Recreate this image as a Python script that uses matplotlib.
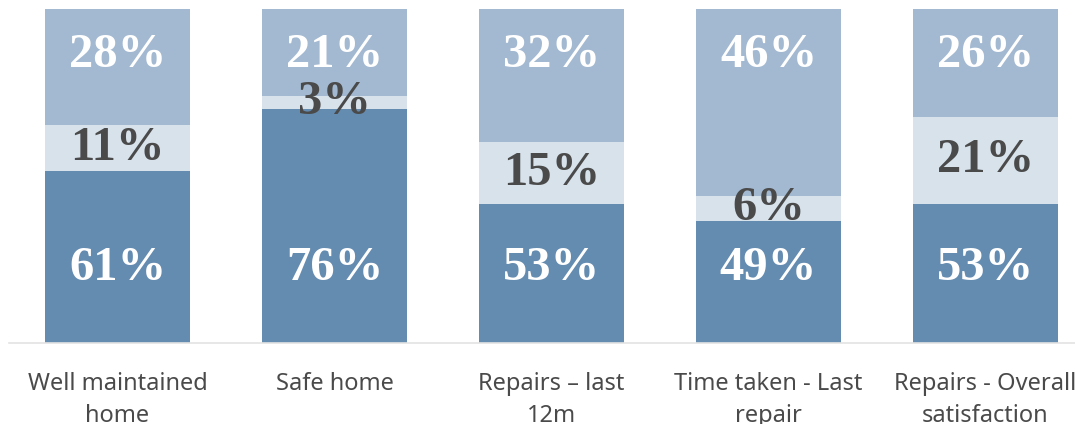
import matplotlib
matplotlib.use("Agg")
import matplotlib.pyplot as plt
import matplotlib.transforms as mtransforms
import numpy as np

# data
categories = ["Well maintained\nhome", "Safe home", "Repairs \u2013 last\n12m",
              "Time taken - Last\nrepair", "Repairs - Overall\nsatisfaction"]
satisfied = [61, 76, 53, 49, 53]
neutral = [11, 3, 15, 6, 21]
dissatisfied = [28, 21, 32, 46, 26]

DARK = "#648BB0"
MID = "#D7E2EB"
LIGHT = "#A3B9D1"
TEXT = "#4A4A4A"
VAL_FONT = dict(family="Liberation Serif", weight="bold", size=35)

fig = plt.figure(figsize=(10.75, 4.24), dpi=100)
ax = fig.add_axes([9 / 1075, 81 / 424, 1085 / 1075, 334 / 424])

x = np.arange(len(categories))
sat = np.array(satisfied)
neu = np.array(neutral)
dis = np.array(dissatisfied)
w = 145 / 217

ax.bar(x, sat, width=w, color=DARK)
ax.bar(x, neu, width=w, bottom=sat, color=MID)
ax.bar(x, dis, width=w, bottom=sat + neu, color=LIGHT)

ax.set_xlim(-0.5, len(categories) - 0.5)
ax.set_ylim(19.5, 100)

trans = mtransforms.blended_transform_factory(ax.transData, ax.transAxes)
for i in range(len(categories)):
    ax.text(x[i], 0.225, f"{sat[i]}%", transform=trans, ha="center", va="center",
            color="white", **VAL_FONT)
    ax.text(x[i], sat[i] + neu[i] / 2, f"{neu[i]}%", ha="center", va="center",
            color=TEXT, **VAL_FONT)
    ax.text(x[i], 0.862, f"{dis[i]}%", transform=trans, ha="center", va="center",
            color="white", **VAL_FONT)

for s in ["top", "right", "left"]:
    ax.spines[s].set_visible(False)
ax.spines["bottom"].set_color("#E3E3E3")
ax.spines["bottom"].set_linewidth(1.2)
ax.set_yticks([])
ax.set_xticks(x)
ax.set_xticklabels(categories, fontsize=17, family="Noto Sans", color=TEXT, linespacing=1.45)
ax.tick_params(axis="x", length=0, pad=21)

plt.savefig("out.png", dpi=100)
